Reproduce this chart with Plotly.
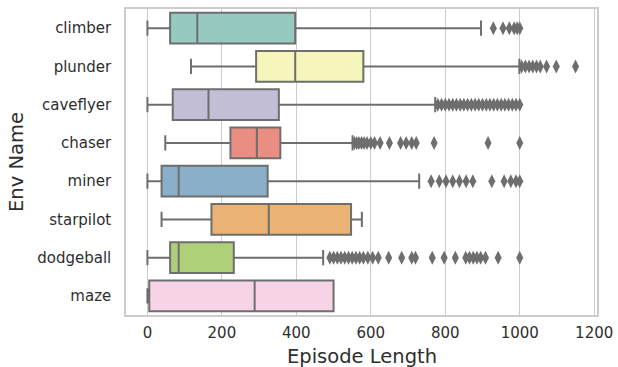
import plotly.graph_objects as go

envs = ["climber", "plunder", "caveflyer", "chaser", "miner", "starpilot", "dodgeball", "maze"]
lower_whisker = [0, 117, 0, 48, 0, 38, 0, 0]
q1 = [61, 292, 68, 223, 38, 172, 61, 5]
median = [134, 397, 164, 294, 84, 326, 84, 288]
q3 = [397, 580, 353, 357, 323, 547, 232, 500]
upper_whisker = [896, 999, 773, 551, 730, 576, 472, 500]
outliers = {
    "climber": [929, 955, 972, 985, 993, 1000],
    "plunder": [1005, 1015, 1025, 1035, 1045, 1055, 1072, 1098, 1150],
    "caveflyer": [780, 790, 800, 810, 820, 830, 840, 850, 860, 870, 880, 890, 900,
                  910, 920, 930, 940, 950, 960, 970, 980, 990, 1000],
    "chaser": [556, 562, 568, 575, 582, 590, 600, 610, 625, 650, 680, 695, 710, 722,
               770, 915, 1000],
    "miner": [762, 784, 802, 820, 838, 856, 874, 925, 958, 976, 990, 1000],
    "starpilot": [],
    "dodgeball": [490, 500, 510, 520, 530, 540, 550, 560, 570, 580, 592, 605, 620, 648,
                  683, 710, 720, 765, 797, 827, 855, 865, 875, 885, 895, 908, 942, 1000],
    "maze": [],
}
colors = ["#96CAC1", "#F6F6BC", "#C1BED6", "#EA8E83", "#8AAFC9", "#EAB375", "#AFCF78", "#F6D3E5"]
x_ticks = [0, 200, 400, 600, 800, 1000, 1200]
x_title = "Episode Length"
y_title = "Env Name"

line_gray = "#6e6e6e"
text_color = "#2e2e2e"
font_family = "DejaVu Sans"

fig = go.Figure()
for i, env in enumerate(envs):
    fig.add_trace(go.Box(
        y=[env], orientation="h",
        q1=[q1[i]], median=[median[i]], q3=[q3[i]],
        lowerfence=[lower_whisker[i]], upperfence=[upper_whisker[i]],
        fillcolor=colors[i],
        line=dict(color=line_gray, width=2),
        width=0.8, whiskerwidth=0.5,
        boxpoints=False, showlegend=False, hoverinfo="skip",
    ))
    if outliers[env]:
        fig.add_trace(go.Scatter(
            x=outliers[env], y=[env] * len(outliers[env]), mode="markers",
            marker=dict(symbol="diamond-tall", size=10, color=line_gray,
                        line=dict(width=0)),
            showlegend=False, hoverinfo="skip",
        ))

fig.update_layout(
    width=618, height=367,
    margin=dict(l=126, r=21, t=9, b=52),
    paper_bgcolor="white", plot_bgcolor="white",
    font=dict(family=font_family, color=text_color, size=15),
    annotations=[
        dict(text=x_title, xref="paper", yref="paper", x=0.5, y=0,
             xanchor="center", yanchor="middle", yshift=-41, showarrow=False,
             font=dict(size=19.5, color=text_color)),
        dict(text=y_title, xref="paper", yref="paper", x=0, y=0.5,
             xanchor="center", yanchor="middle", xshift=-110, textangle=-90,
             showarrow=False, font=dict(size=19.5, color=text_color)),
    ],
)
fig.update_xaxes(
    range=[-57.5, 1207.5], tickvals=x_ticks, ticktext=[str(t) for t in x_ticks],
    showgrid=True, gridcolor="#cccccc", gridwidth=1, zeroline=False,
    showline=True, linecolor="#cccccc", linewidth=1.5, mirror=True,
    ticks="", ticklabelstandoff=3, automargin=False,
    tickfont=dict(size=15, color=text_color),
)
fig.update_yaxes(
    type="category", categoryorder="array", categoryarray=envs,
    range=[7.5, -0.5], showgrid=False, zeroline=False,
    showline=True, linecolor="#cccccc", linewidth=1.5, mirror=True,
    ticks="", ticklabelstandoff=10, automargin=False,
    tickfont=dict(size=15, color=text_color),
)

fig.write_html(
    "out.html",
    config={"displayModeBar": False},
    post_script="document.body.style.margin='0';document.body.style.overflow='hidden';",
)
